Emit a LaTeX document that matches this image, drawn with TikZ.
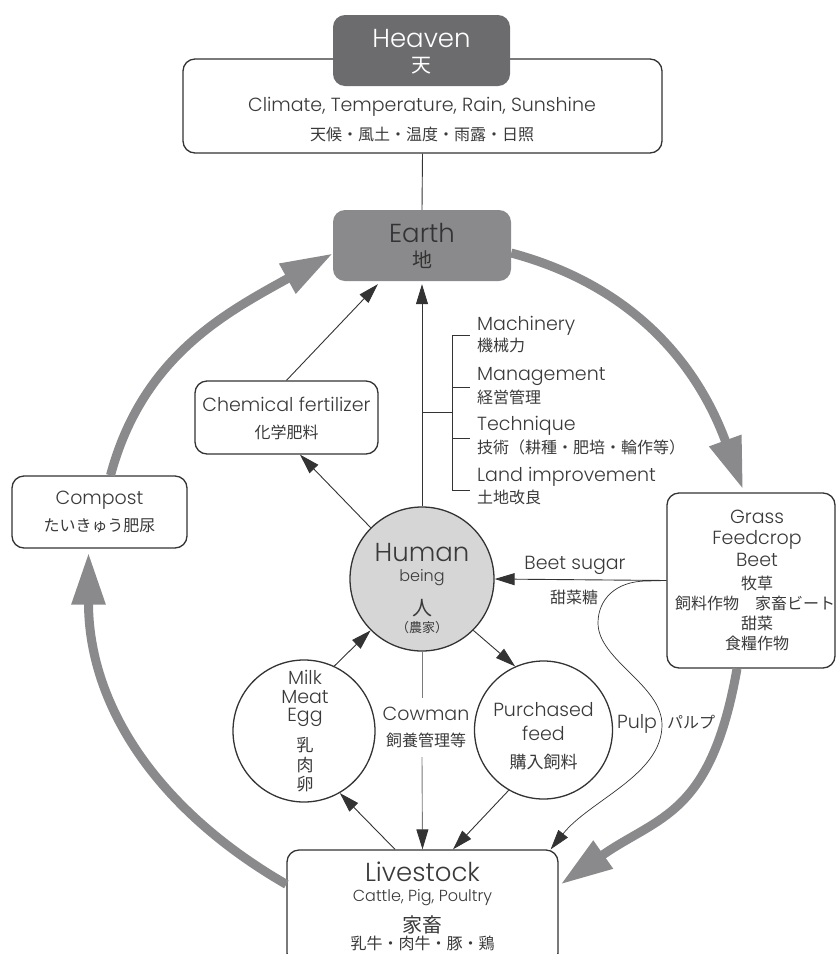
\documentclass[tikz,border=0pt]{standalone}
\usepackage{fontspec}
\setmainfont{Poppins}[UprightFont=* Light]
\newfontfamily\jp{Noto Sans CJK JP}
\usetikzlibrary{arrows.meta,calc}
\definecolor{txt}{HTML}{3A3A3A}
\definecolor{darkfill}{HTML}{6C6C6E}
\definecolor{earthgray}{HTML}{8A8A8C}
\definecolor{humangray}{HTML}{D6D6D6}
\definecolor{edge}{HTML}{333333}
\definecolor{cowgray}{HTML}{7A7A7A}
\newcommand{\fsz}[1]{\fontsize{#1}{#1}\selectfont}
\begin{document}
\begin{tikzpicture}[x=1pt,y=1pt,
  box/.style={draw=edge,line width=1.3pt,rounded corners=12pt,fill=white,inner sep=0pt},
  filledbox/.style={rounded corners=12pt,inner sep=0pt},
  circ/.style={draw=edge,line width=1.3pt,circle,inner sep=0pt},
  lbl/.style={text=txt,inner sep=0pt,anchor=base},
  enbig/.style={lbl,font=\fsz{26},yshift=-9pt},
  en/.style={lbl,font=\fsz{19},yshift=-6.7pt},
  ensm/.style={lbl,font=\fsz{16},yshift=-5.6pt},
  jabig/.style={lbl,font=\jp\fsz{20},yshift=-7.6pt},
  jamid/.style={lbl,font=\jp\fsz{17},yshift=-6.4pt},
  ja/.style={lbl,font=\jp\fsz{16},yshift=-6.1pt},
  jasm/.style={lbl,font=\jp\fsz{13},yshift=-5pt},
  thinline/.style={draw=edge,line width=0.9pt},
  arr/.style={thinline,-{Triangle[length=20pt,width=12pt]}},
  bigarr/.style={draw=earthgray,line width=9pt,-{Triangle[length=52pt,width=32pt]}},
]
\useasboundingbox (0,0) rectangle (837,-954);
\clip (0,0) rectangle (837,-954);

% ---------- boxes ----------
\node[box,minimum width=479pt,minimum height=94pt] (heavenbox) at (422.5,-106) {};
\node[filledbox,fill=darkfill,minimum width=177pt,minimum height=71pt] (heaven) at (421.5,-50.5) {};
\node[filledbox,fill=earthgray,minimum width=178pt,minimum height=71pt] (earth) at (422,-245.5) {};
\node[box,minimum width=183pt,minimum height=73pt] (chem) at (286.5,-417.5) {};
\node[box,minimum width=175pt,minimum height=72pt] (compost) at (99.5,-512) {};
\node[box,minimum width=168pt,minimum height=175pt] (grass) at (751,-580.5) {};
\node[box,minimum width=271pt,minimum height=115pt] (livestock) at (422.5,-907.5) {};
\node[circ,fill=humangray,minimum size=144pt] (human) at (422,-579) {};
\node[circ,fill=white,minimum size=142pt] (milk) at (304,-731) {};
\node[circ,fill=white,minimum size=138pt] (purchased) at (543.5,-730) {};

% ---------- texts ----------
\node[enbig,text=white] (heavenen) at (421.5,-38.5) {Heaven};
\node[jabig,text=white] (heavenja) at (421.5,-65) {天};
\node[en] (climate) at (422,-105) {Climate, Temperature, Rain, Sunshine};
\node[ja] (climateja) at (422,-134) {天候・風土・温度・雨露・日照};

\node[enbig,text=edge] (earthen) at (422,-233.5) {Earth};
\node[jabig,text=edge] (earthja) at (422,-260) {地};

\node[en] (chemen) at (286.5,-404.5) {Chemical fertilizer};
\node[ja] (chemja) at (286.5,-432) {化学肥料};

\node[en] (composten) at (99.5,-498) {Compost};
\node[ja] (compostja) at (99.5,-525) {たいきゅう肥尿};

\node[en,anchor=base west] (mach) at (477,-324) {Machinery};
\node[ja,anchor=base west] (machja) at (477,-345) {機械力};
\node[en,anchor=base west] (mgmt) at (477,-374) {Management};
\node[ja,anchor=base west] (mgmtja) at (477,-397) {経営管理};
\node[en,anchor=base west] (tech) at (477,-424) {Technique};
\node[ja,anchor=base west] (techja) at (477,-447) {技術（耕種・肥培・輪作等）};
\node[en,anchor=base west] (land) at (477,-475) {Land improvement};
\node[ja,anchor=base west] (landja) at (477,-497) {土地改良};

\node[enbig] (humanen) at (422,-552) {Human};
\node[ensm] (being) at (422,-576) {being};
\node[jabig] (humanja) at (422,-608) {人};
\node[jasm] (farmer) at (422,-627) {（農家）};

\node[en] (milken) at (305,-678) {Milk};
\node[en] (meaten) at (305,-697) {Meat};
\node[en] (eggen) at (305,-715) {Egg};
\node[jamid] (milkja) at (305,-745) {乳};
\node[jamid] (meatja) at (305,-765) {肉};
\node[jamid] (eggja) at (305,-784) {卵};

\node[en] (cowman) at (426,-714) {Cowman};
\node[ja] (cowmanja) at (426,-740) {飼養管理等};

\node[en] (purch) at (543.5,-710) {Purchased};
\node[en] (feed) at (543.5,-734) {feed};
\node[jamid] (purchja) at (543.5,-762) {購入飼料};

\node[en] (beetsugar) at (575,-563) {Beet sugar};
\node[ja] (beetsugarja) at (574,-597) {甜菜糖};

\node[en] (grassen) at (757,-517) {Grass};
\node[en] (feedcrop) at (757,-538) {Feedcrop};
\node[en] (beet) at (757,-560) {Beet};
\node[ja] (grassja1) at (757,-583) {牧草};
\node[ja] (grassja2) at (755,-603) {飼料作物　家畜ビート};
\node[ja] (grassja3) at (757,-623) {甜菜};
\node[ja] (grassja4) at (757,-643) {食糧作物};

\node[en] (pulp) at (637,-722) {Pulp};
\node[ja] (pulpja) at (691,-722) {パルプ};

\node[enbig] (livestocken) at (422.5,-872) {Livestock};
\node[ensm] (cattle) at (422.5,-896) {Cattle, Pig, Poultry};
\node[jabig] (livestockja) at (422.5,-925) {家畜};
\node[ja] (livestockja2) at (422.5,-943) {乳牛・肉牛・豚・鶏};

% ---------- thin connectors ----------
\draw[thinline] (heavenbox.south) -- (earth.north);
\draw[arr] (human.north) -- ([yshift=-3pt]earth.south);
\draw[arr] (chem.north) -- ([xshift=45pt,yshift=-3pt]earth.south west);
\draw[arr] (human.135) -- ([xshift=13.5pt]chem.south);
\draw[arr] (milk.65) -- (human.225);
\draw[arr] (human.-45) -- (purchased.114);
\draw[arr] ([xshift=-27.5pt]livestock.north) -- (milk.-60);
\draw[arr] (purchased.-120) -- ([xshift=30.5pt]livestock.north);
\draw[arr] (grass.west) -- (human.east);

% cowman line
\coordinate (cowtop) at (422,-698);
\coordinate (cowbot) at (422,-757);
\draw[draw=cowgray,line width=0.9pt] (human.south) -- (cowtop);
\draw[draw=cowgray,line width=0.9pt,-{Triangle[length=20pt,width=12pt,color=edge]}] (cowbot) -- (livestock.north);

% bracket
\coordinate (brA) at (422,-412);
\coordinate (brB) at (452,-412);
\draw[thinline] (brA) -- (brB);
\draw[thinline] (452,-335) -- (452,-490);
\foreach \yy in {-335,-387,-438,-490}{\draw[thinline] (452,\yy) -- (470,\yy);}

% pulp curve
\coordinate (pulpend) at ([xshift=-8pt]livestock.north east);
\draw[arr,line width=0.7pt] (grass.west) -- (647,-581) .. controls (615,-581) and (598,-600) .. (598,-623)
  .. controls (598,-660) and (662,-685) .. (662,-725)
  .. controls (662,-775) and (590,-800) .. (pulpend);

% ---------- big grey cycle ----------
\draw[bigarr] ([yshift=-7.5pt]earth.east) to[out=-15,in=110] ([xshift=-8pt,yshift=3pt]grass.north);
\draw[bigarr] ([xshift=-14pt]grass.south) .. controls +(-100:150) and +(35:120) .. ([xshift=2pt,yshift=-35pt]livestock.north east);
\draw[bigarr] ([yshift=-35pt]livestock.north west) to[out=150,in=-90] ([xshift=-11pt,yshift=-4pt]compost.south);
\draw[bigarr] ([xshift=11pt]compost.north) to[out=75,in=209] ([yshift=-8pt]earth.west);
\end{tikzpicture}
\end{document}
